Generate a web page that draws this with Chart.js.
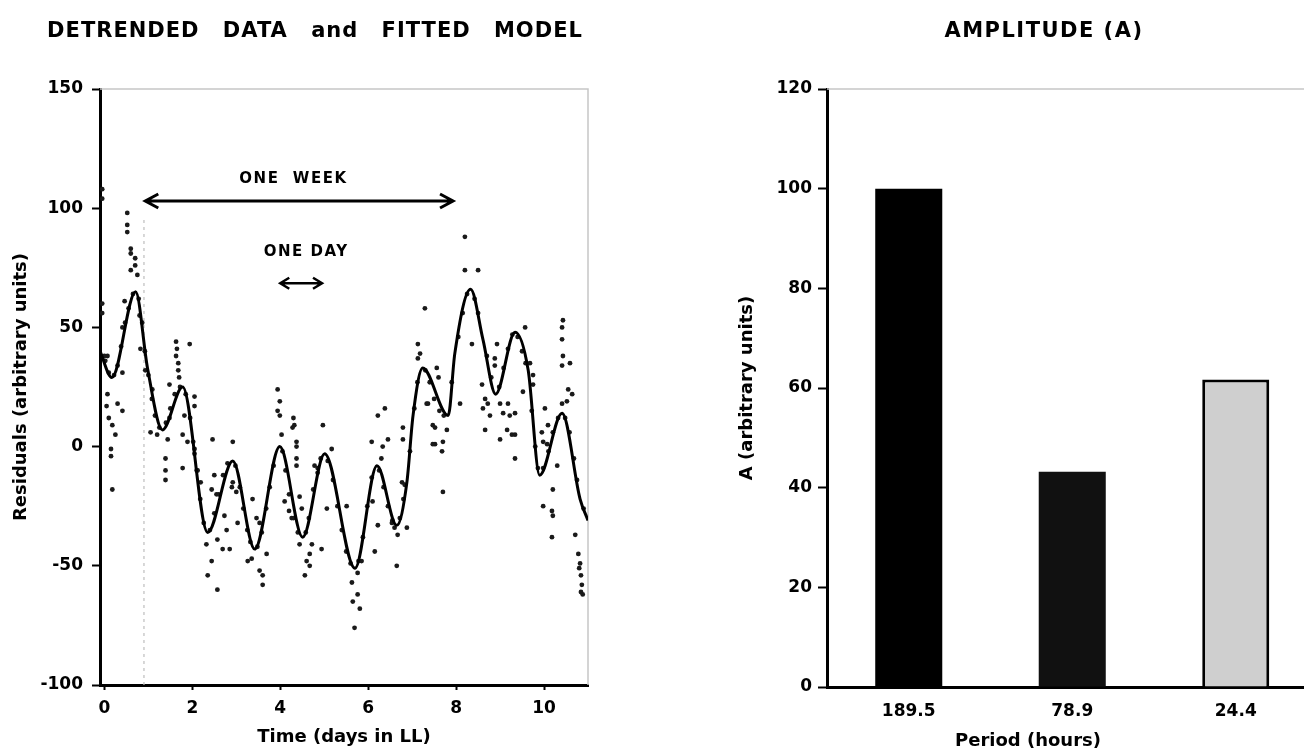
<!DOCTYPE html>
<html>
<head>
<meta charset="utf-8">
<title>Detrended data and amplitude</title>
<script src="https://cdn.jsdelivr.net/npm/chart.js@4.4.1/dist/chart.umd.min.js"></script>
<style>
  html, body { margin: 0; padding: 0; background: #fff; }
  body { position: relative; width: 1304px; height: 751px; overflow: hidden; font-family: "DejaVu Sans", sans-serif; }
  canvas { position: absolute; top: 0; }
  #fitChart { left: 0; }
  #ampChart { left: 700px; }
  .label { position: absolute; font-weight: bold; color: #000; text-align: center; white-space: pre; }
  #leftTitle { left: 0; width: 630px; top: 18px; font-size: 21px; line-height: 25px; word-spacing: 15px; letter-spacing: 1px; }
  #rightTitle { left: 844px; width: 400px; top: 18px; font-size: 21px; line-height: 25px; letter-spacing: 1.5px; }
  #periodTitle { left: 928px; width: 200px; top: 729px; font-size: 18px; line-height: 22px; }
</style>
</head>
<body>
<canvas id="fitChart" width="600" height="751"></canvas>
<canvas id="ampChart" width="630" height="751"></canvas>
<div class="label" id="leftTitle">DETRENDED DATA and FITTED MODEL</div>
<div class="label" id="rightTitle">AMPLITUDE (A)</div>
<div class="label" id="periodTitle">Period (hours)</div>
<script>
// fitted model, read at its peaks, troughs and a few slopes
const fitDays = [-0.1, 0.17, 0.71, 0.98, 1.32, 1.78, 2.35, 2.92, 3.42, 3.99, 4.51, 5.01, 5.7, 6.2, 6.65, 6.88, 7.02, 7.24, 7.82, 7.97, 8.33, 8.61, 8.9, 9.34, 9.64, 9.9, 10.41, 10.82, 11.0];
const fitResiduals = [40, 29, 65, 33, 7, 25, -36, -6, -43, 0, -38, -3, -51, -8, -33, -15, 13, 33, 13, 39, 66, 45, 22, 48, 32, -12, 14, -22, -31];

// detrended data points [day, residual]
const residualPoints = [
  [-0.05, 108], [-0.05, 104], [-0.05, 60], [-0.05, 56], [0.0, 38], [0.07, 38],
  [0.52, 98], [0.52, 93], [0.52, 90], [0.6, 83], [0.6, 81], [0.7, 79], [0.7, 76], [0.6, 74], [0.75, 72],
  [0.46, 61], [0.41, 50], [0.8, 55], [0.82, 41], [0.93, 32], [0.41, 31], [1.09, 24],
  [1.63, 44], [1.65, 41], [1.63, 38], [1.68, 35], [1.68, 32], [1.7, 29], [1.94, 43], [1.48, 26],
  [0.07, 22], [0.05, 17], [0.3, 18], [0.41, 15], [0.1, 12], [0.18, 9], [0.25, 5], [0.15, -1], [0.15, -4], [0.18, -18],
  [2.05, 21], [2.05, 17], [1.82, 13], [1.48, 12], [1.05, 6], [1.2, 5], [1.44, 3], [1.78, 5], [1.89, 2], [2.46, 3],
  [1.39, -5], [1.39, -10], [1.39, -14], [1.78, -9], [2.5, -12], [2.05, -1], [2.05, -3], [2.12, -10], [2.19, -15],
  [2.92, 2], [3.94, 24], [3.99, 19], [3.94, 15], [3.99, 13], [4.3, 12], [4.32, 9], [4.28, 8], [4.03, 5], [4.37, 2],
  [4.37, 0], [4.97, 9], [4.37, -5], [4.37, -8], [5.17, -1],
  [2.44, -18], [2.55, -20], [2.92, -15], [2.9, -17], [3.0, -19], [2.73, -29], [3.03, -32], [2.78, -35], [2.57, -39],
  [2.69, -43], [2.85, -43], [2.32, -41], [2.44, -48], [2.35, -54], [2.57, -60],
  [3.37, -22], [3.46, -30], [3.53, -32], [3.69, -45], [3.26, -48], [3.35, -47], [3.53, -52], [3.6, -54], [3.6, -58],
  [4.1, -23], [4.2, -27], [4.26, -30], [4.44, -21], [4.49, -26], [4.44, -41], [4.72, -41], [4.67, -45], [4.6, -48],
  [4.67, -50], [4.56, -54], [4.78, -8], [4.85, -11], [5.06, -26], [4.94, -43],
  [6.38, 16], [6.22, 13], [6.08, 2], [6.45, 3], [6.33, 0], [6.3, -5], [6.79, 8], [6.79, 3], [6.77, -15], [6.83, -16],
  [6.1, -23], [5.51, -25], [6.22, -33], [6.54, -32], [6.6, -34], [6.67, -37], [6.88, -34], [6.15, -44], [6.65, -50],
  [5.85, -48], [5.76, -53], [5.63, -57], [5.76, -62], [5.65, -65], [5.81, -68], [5.69, -76], [7.47, 9], [7.52, 1], [7.33, 18],
  [8.2, 88], [8.2, 74], [8.5, 74], [7.29, 58], [7.13, 43], [7.18, 39], [7.13, 37], [8.36, 43], [8.09, 18], [8.59, 26],
  [7.52, 8], [7.79, 7], [7.7, 2], [7.47, 1], [7.68, -2], [7.7, -19], [7.36, 18], [7.56, 33], [7.6, 29], [9.57, 50],
  [8.93, 43], [8.88, 37], [8.88, 34], [8.66, 20], [8.72, 18], [8.61, 16], [8.77, 13], [9.0, 18], [9.18, 18], [9.07, 14],
  [9.22, 13], [9.34, 14], [8.66, 7], [9.0, 3], [9.16, 7], [9.27, 5], [9.34, 5], [9.34, -5], [9.68, 35], [9.75, 30],
  [9.75, 26], [9.52, 23], [10.43, 53], [10.41, 50], [10.41, 45], [10.43, 38], [10.41, 34], [10.59, 35], [10.55, 24],
  [10.64, 22], [10.41, 18], [10.52, 19], [10.02, 16], [10.09, 9], [9.95, 6], [9.98, 2], [10.07, 1], [10.3, -8],
  [10.2, -18], [9.98, -25], [10.18, -27], [10.2, -29], [10.18, -38], [10.71, -37], [10.78, -45], [10.82, -49],
  [10.8, -51], [10.84, -54], [10.86, -58], [10.84, -61], [10.88, -62],
  // points lying on the fitted curve
  [0.02, 36], [0.1, 31], [0.22, 30], [0.3, 34], [0.38, 42], [0.47, 52], [0.55, 58], [0.65, 64], [0.78, 62], [0.86, 52],
  [0.92, 40], [1.0, 30], [1.08, 20], [1.15, 13], [1.25, 8], [1.4, 10], [1.5, 16], [1.6, 22], [1.72, 25], [1.85, 22],
  [1.95, 12], [2.02, 2], [2.1, -10], [2.18, -22], [2.26, -32], [2.4, -35], [2.5, -28], [2.6, -20], [2.7, -12], [2.8, -7],
  [2.98, -8], [3.08, -17], [3.16, -26], [3.25, -35], [3.32, -40], [3.48, -42], [3.58, -36], [3.68, -26], [3.76, -17],
  [3.85, -8], [4.05, -2], [4.12, -10], [4.2, -20], [4.3, -30], [4.4, -36], [4.58, -36], [4.65, -30], [4.75, -18],
  [4.85, -9], [4.92, -5], [5.08, -6], [5.2, -14], [5.3, -25], [5.4, -35], [5.5, -44], [5.6, -49], [5.78, -48],
  [5.88, -38], [5.98, -25], [6.08, -13], [6.25, -10], [6.35, -17], [6.45, -25], [6.55, -31], [6.72, -30], [6.8, -22],
  [6.95, -2], [7.05, 16], [7.12, 27], [7.3, 32], [7.4, 27], [7.5, 20], [7.62, 15], [7.72, 13], [7.9, 27], [8.05, 46],
  [8.15, 56], [8.25, 64], [8.42, 62], [8.5, 56], [8.7, 38], [8.8, 29], [8.98, 25], [9.08, 33], [9.18, 41], [9.28, 47],
  [9.4, 46], [9.5, 40], [9.58, 35], [9.72, 15], [9.8, 0], [9.86, -9], [9.98, -9], [10.1, -2], [10.2, 6], [10.32, 12],
  [10.48, 12], [10.58, 6], [10.68, -5], [10.75, -14], [10.9, -26]
];

// dotted marker at the start of the week span
const llStartDays = [0.9, 0.9];
const llStartResiduals = [-100, 95];

// span markers on the left panel
const weekArrowDays = [0.93, 7.93];
const weekArrowLevel = 103;
const weekLabelAt = [4.3, 112];
const dayArrowDays = [4.0, 4.95];
const dayArrowLevel = 68.5;
const dayLabelAt = [4.59, 81.5];

const timeTicks = [0, 2, 4, 6, 8, 10];
const residualTicks = [-100, -50, 0, 50, 100, 150];

// amplitude panel
const periodLabels = ["189.5", "78.9", "24.4"];
const amplitudes = [100, 43.2, 61.7];
const amplitudeTicks = [0, 20, 40, 60, 80, 100, 120];

Chart.defaults.font.family = '"DejaVu Sans", sans-serif';
Chart.defaults.font.weight = "bold";
Chart.defaults.color = "#000";

const tickFont = { size: 17, weight: "bold" };
const axisTitleFont = { size: 18, weight: "bold" };

const plotFrame = {
  id: "plotFrame",
  beforeDatasetsDraw(chart, args, opts) {
    const { ctx, chartArea: a } = chart;
    ctx.save();
    ctx.strokeStyle = "#c6c6c6";
    ctx.lineWidth = 1.5;
    ctx.beginPath();
    ctx.moveTo(a.left, a.top);
    ctx.lineTo(a.right, a.top);
    if (opts.right) ctx.lineTo(a.right, a.bottom);
    ctx.stroke();
    ctx.restore();
  }
};

function drawArrow(ctx, x1, x2, y, head, wing, width) {
  ctx.lineWidth = width;
  ctx.beginPath();
  ctx.moveTo(x1 + 1, y);
  ctx.lineTo(x2 - 1, y);
  ctx.moveTo(x1 + head, y - wing);
  ctx.lineTo(x1, y);
  ctx.lineTo(x1 + head, y + wing);
  ctx.moveTo(x2 - head, y - wing);
  ctx.lineTo(x2, y);
  ctx.lineTo(x2 - head, y + wing);
  ctx.stroke();
}

const spanMarkers = {
  id: "spanMarkers",
  afterDatasetsDraw(chart) {
    const { ctx, scales: { x, y } } = chart;
    ctx.save();
    ctx.strokeStyle = "#000";
    ctx.fillStyle = "#000";
    ctx.lineJoin = "miter";
    drawArrow(ctx, x.getPixelForValue(weekArrowDays[0]), x.getPixelForValue(weekArrowDays[1]),
      y.getPixelForValue(weekArrowLevel), 13, 7, 3);
    drawArrow(ctx, x.getPixelForValue(dayArrowDays[0]), x.getPixelForValue(dayArrowDays[1]),
      y.getPixelForValue(dayArrowLevel), 9, 5.5, 2.5);
    ctx.font = 'bold 15px "DejaVu Sans", sans-serif';
    ctx.letterSpacing = "1.5px";
    ctx.textAlign = "center";
    ctx.textBaseline = "middle";
    ctx.fillText("ONE  WEEK", x.getPixelForValue(weekLabelAt[0]), y.getPixelForValue(weekLabelAt[1]));
    ctx.fillText("ONE DAY", x.getPixelForValue(dayLabelAt[0]), y.getPixelForValue(dayLabelAt[1]));
    ctx.restore();
  }
};

new Chart(document.getElementById("fitChart"), {
  type: "scatter",
  data: {
    datasets: [
      {
        type: "line",
        label: "Fitted model",
        data: fitDays.map((d, i) => ({ x: d, y: fitResiduals[i] })),
        borderColor: "#000",
        borderWidth: 3,
        pointRadius: 0,
        cubicInterpolationMode: "monotone",
        fill: false,
        order: 0
      },
      {
        label: "Detrended data",
        data: residualPoints.map(p => ({ x: p[0], y: p[1] })),
        pointRadius: 2.4,
        pointBackgroundColor: "#1a1a1a",
        pointBorderWidth: 0,
        order: 1
      },
      {
        type: "line",
        label: "LL start",
        data: llStartDays.map((d, i) => ({ x: d, y: llStartResiduals[i] })),
        borderColor: "#bdbdbd",
        borderWidth: 1.2,
        borderDash: [3, 4],
        pointRadius: 0,
        order: 2
      }
    ]
  },
  options: {
    responsive: false,
    animation: false,
    layout: { padding: { top: 89, right: 12, bottom: 0, left: 0 } },
    plugins: {
      legend: { display: false },
      tooltip: { enabled: false },
      plotFrame: { right: true }
    },
    scales: {
      x: {
        type: "linear",
        min: -0.1,
        max: 11,
        afterBuildTicks: s => { s.ticks = timeTicks.map(v => ({ value: v })); },
        afterFit: s => { s.height = 66; },
        ticks: { font: tickFont, color: "#000", padding: 8 },
        grid: { drawOnChartArea: false, drawTicks: true, tickLength: 5, tickColor: "#000", tickWidth: 2 },
        border: { color: "#000", width: 3 },
        title: { display: true, text: "Time (days in LL)", font: axisTitleFont, color: "#000", padding: { top: 0, bottom: 3 } }
      },
      y: {
        min: -100,
        max: 150,
        afterBuildTicks: s => { s.ticks = residualTicks.map(v => ({ value: v })); },
        afterFit: s => { s.width = 100; },
        ticks: { font: tickFont, color: "#000", padding: 9 },
        grid: { drawOnChartArea: false, drawTicks: true, tickLength: 8, tickColor: "#000", tickWidth: 2 },
        border: { color: "#000", width: 3 },
        title: { display: true, text: "Residuals (arbitrary units)", font: axisTitleFont, color: "#000", padding: { top: 11, bottom: 0 } }
      }
    }
  },
  plugins: [plotFrame, spanMarkers]
});

new Chart(document.getElementById("ampChart"), {
  type: "bar",
  data: {
    labels: periodLabels,
    datasets: [{
      label: "Amplitude",
      data: amplitudes,
      backgroundColor: ["#000000", "#111111", "#cfcfcf"],
      borderColor: "#000",
      borderWidth: [0, 0, 3],
      barPercentage: 0.41,
      categoryPercentage: 1
    }]
  },
  options: {
    responsive: false,
    animation: false,
    layout: { padding: { top: 89, right: 12.5, bottom: 0, left: 0 } },
    plugins: {
      legend: { display: false },
      tooltip: { enabled: false },
      plotFrame: { right: false }
    },
    scales: {
      x: {
        afterFit: s => { s.height = 64; },
        ticks: { font: tickFont, color: "#000", padding: 14 },
        grid: { display: false, drawTicks: false },
        border: { color: "#000", width: 3 }
      },
      y: {
        min: 0,
        max: 120,
        afterBuildTicks: s => { s.ticks = amplitudeTicks.map(v => ({ value: v })); },
        afterFit: s => { s.width = 127; },
        ticks: { font: tickFont, color: "#000", padding: 6 },
        grid: { drawOnChartArea: false, drawTicks: true, tickLength: 9, tickColor: "#000", tickWidth: 2 },
        border: { color: "#000", width: 3 },
        title: { display: true, text: "A (arbitrary units)", font: axisTitleFont, color: "#000", padding: { top: 37, bottom: 0 } }
      }
    }
  },
  plugins: [plotFrame]
});
</script>
</body>
</html>
